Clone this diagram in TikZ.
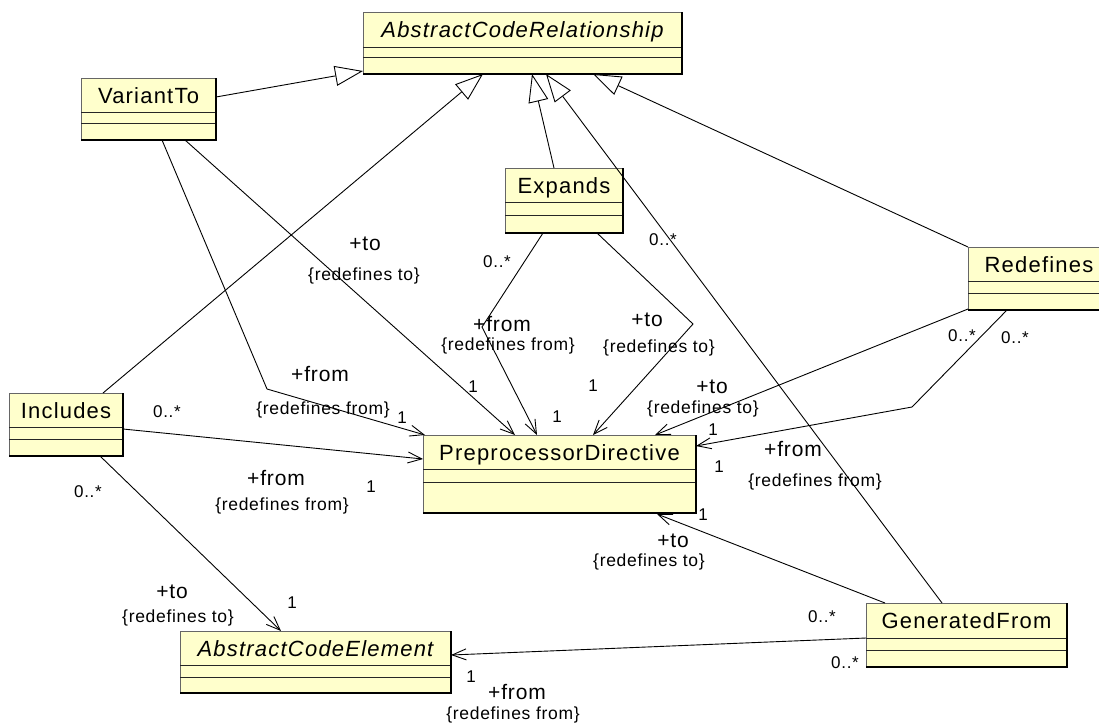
\documentclass[tikz,border=0pt]{standalone}
\usepackage{fontspec}
\setmainfont{Liberation Sans}
\newfontfamily\clsfont{Liberation Sans}[LetterSpace=5.5]
\newfontfamily\lblfont{Liberation Sans}[LetterSpace=4]
\usetikzlibrary{arrows.meta,calc}
\definecolor{clsfill}{RGB}{255,255,204}
\tikzset{
 classbox/.style={draw=black!60, line width=1pt, fill=clsfill, inner sep=0pt, outer sep=0pt},
 divider/.style={draw=black!85, line width=1pt},
 shadowedge/.style={draw=black, line width=2pt},
 clsname/.style={font=\clsfont\fontsize{22}{26}\selectfont, inner sep=0pt},
 role/.style={font=\lblfont\fontsize{21}{24}\selectfont, inner sep=0pt},
 cons/.style={font=\lblfont\fontsize{17.5}{20}\selectfont, inner sep=0pt},
 mult/.style={font=\lblfont\fontsize{17}{20}\selectfont, inner sep=0pt},
 gen/.style={draw=black, line width=0.9pt, -{Triangle[open, length=28pt, width=20pt, fill=white]}},
 assoc/.style={draw=black, line width=0.9pt, -{Straight Barb[length=14pt, width=11pt]}},
}
\newcommand\umlclass[8]{%
  \node[classbox, minimum width={(#4-#2)*1pt}, minimum height={(#5-#3)*1pt}, anchor=north west] (#1) at (#2,#3) {};
  \draw[divider] (#2,#6) -- (#4,#6) (#2,#7) -- (#4,#7);
  \draw[shadowedge] (#4,#3) -- (#4,#5) -- (#2,#5);
  \node[clsname, anchor=base] (#1-name) at ({(#2+#4)/2},{(#3+#6)/2+8}) {#8};
}
\begin{document}
\begin{tikzpicture}[x=1pt,y=-1pt]
\useasboundingbox (0,0) rectangle (1099,724);
\fill[white] (0,0) rectangle (1099,724);

\umlclass{acr}{363}{12}{682}{74}{47}{57}{\itshape AbstractCodeRelationship}
\umlclass{vt}{81}{78}{216}{140}{112}{123}{VariantTo}
\umlclass{ex}{505}{168}{623}{233}{202}{215}{Expands}
\umlclass{rd}{968}{247}{1110}{310}{281}{293}{Redefines}
\umlclass{inc}{9}{393}{123}{456}{427}{439}{Includes}
\umlclass{pd}{423}{435}{696}{513}{469}{482}{PreprocessorDirective}
\umlclass{ace}{180}{631}{451}{693}{665}{677}{\itshape AbstractCodeElement}
\umlclass{gf}{866}{603}{1067}{667}{638}{650}{GeneratedFrom}

\coordinate (b1) at (267,389);
\coordinate (b2) at (482,327);
\coordinate (b3) at (693,324);
\coordinate (b4) at (912,407);

% generalizations
\draw[gen] ($(vt.north east)+(0,19)$) -- ($(acr.south west)+(0,-3)$);
\draw[gen] ($(inc.north west)+(94,0)$) -- ($(acr.south west)+(120,0)$);
\draw[gen] ($(ex.north west)+(49,0)$) -- ($(acr.south west)+(169,0)$);
\draw[gen] ($(gf.north west)+(76,0)$) -- ($(acr.south west)+(183,0)$);
\draw[gen] (rd.north west) -- ($(acr.south west)+(230,0)$);

% associations
\draw[assoc] ($(vt.south west)+(81,0)$) -- (b1) -- ($(pd.north west)+(2,0)$);
\draw[assoc] ($(vt.south west)+(104,0)$) -- ($(pd.north west)+(92,0)$);
\draw[assoc] ($(inc.north east)+(0,36)$) -- ($(pd.north west)+(0,24)$);
\draw[assoc] ($(inc.south west)+(91,0)$) -- ($(ace.north west)+(101,0)$);
\draw[assoc] ($(ex.south west)+(38,0)$) -- (b2) -- ($(pd.north west)+(114,0)$);
\draw[assoc] ($(ex.south west)+(92,0)$) -- (b3) -- ($(pd.north west)+(170,0)$);
\draw[assoc] ($(rd.south west)+(0,-1)$) -- ($(pd.north west)+(232,0)$);
\draw[assoc] ($(rd.south west)+(39,0)$) -- (b4) -- ($(pd.north east)+(0,11)$);
\draw[assoc] ($(gf.north west)+(19,0)$) -- ($(pd.south west)+(234,1)$);
\draw[assoc] ($(gf.north west)+(0,35)$) -- ($(ace.north east)+(0,24)$);

% VariantTo labels
\node[role] (l1) at (365,244) {+to};
\node[cons] (l2) at (364,276) {\{redefines to\}};
\node[mult] (l3) at (473,387) {1};
\node[role] (l4) at (320,374) {+from};
\node[cons] (l5) at (323,410) {\{redefines from\}};
\node[mult] (l6) at (402,418) {1};
% Includes labels
\node[mult] (l7) at (167,412) {0..*};
\node[role] (l8) at (276,478) {+from};
\node[cons] (l9) at (282,506) {\{redefines from\}};
\node[mult] (l10) at (371,487) {1};
\node[mult] (l11) at (88,492) {0..*};
\node[role] (l12) at (172,592) {+to};
\node[cons] (l13) at (178,618) {\{redefines to\}};
\node[mult] (l14) at (292,603) {1};
% Expands labels
\node[mult] (l15) at (497,262) {0..*};
\node[role] (l16) at (502,324) {+from};
\node[cons] (l17) at (508,346) {\{redefines from\}};
\node[mult] (l18) at (557,417) {1};
\node[role] (l19) at (647,320) {+to};
\node[cons] (l20) at (659,348) {\{redefines to\}};
\node[mult] (l21) at (593,386) {1};
\node[mult] (l22) at (663,240) {0..*};
% Redefines labels
\node[mult] (l23) at (962,336) {0..*};
\node[mult] (l24) at (1015,338) {0..*};
\node[role] (l25) at (712,387) {+to};
\node[cons] (l26) at (703,409) {\{redefines to\}};
\node[mult] (l27) at (713,430) {1};
\node[role] (l28) at (793,449) {+from};
\node[cons] (l29) at (815,482) {\{redefines from\}};
\node[mult] (l30) at (719,467) {1};
% GeneratedFrom labels
\node[mult] (l31) at (822,617) {0..*};
\node[role] (l32) at (673,541) {+to};
\node[cons] (l33) at (649,562) {\{redefines to\}};
\node[mult] (l34) at (703,515) {1};
\node[mult] (l35) at (845,663) {0..*};
\node[mult] (l36) at (471,677) {1};
\node[role] (l37) at (517,692) {+from};
\node[cons] (l38) at (513,715) {\{redefines from\}};
\end{tikzpicture}
\end{document}
